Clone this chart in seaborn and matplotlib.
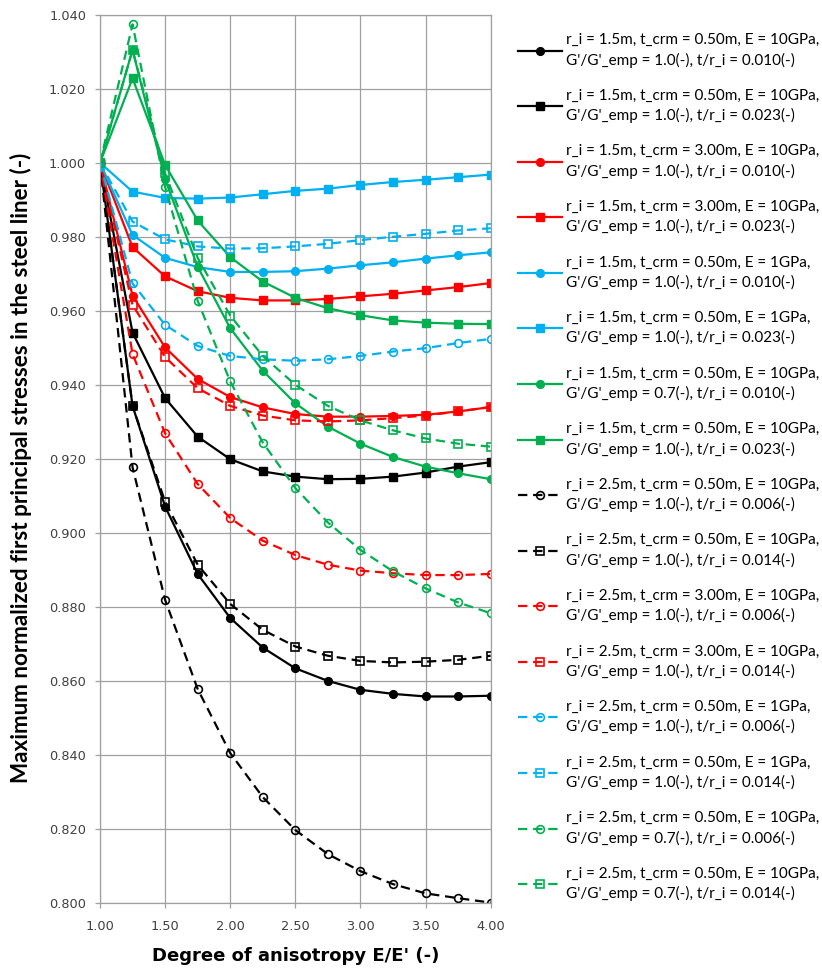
import matplotlib
matplotlib.use("Agg")
import matplotlib.pyplot as plt
import seaborn as sns
import pandas as pd
import numpy as np

# ---------------- data ----------------
anisotropy = [1.00, 1.25, 1.50, 1.75, 2.00, 2.25, 2.50, 2.75, 3.00, 3.25, 3.50, 3.75, 4.00]

labels = [
    "r_i = 1.5m, t_crm = 0.50m, E = 10GPa,\nG'/G'_emp = 1.0(-), t/r_i = 0.010(-)",
    "r_i = 1.5m, t_crm = 0.50m, E = 10GPa,\nG'/G'_emp = 1.0(-), t/r_i = 0.023(-)",
    "r_i = 1.5m, t_crm = 3.00m, E = 10GPa,\nG'/G'_emp = 1.0(-), t/r_i = 0.010(-)",
    "r_i = 1.5m, t_crm = 3.00m, E = 10GPa,\nG'/G'_emp = 1.0(-), t/r_i = 0.023(-)",
    "r_i = 1.5m, t_crm = 0.50m, E = 1GPa,\nG'/G'_emp = 1.0(-), t/r_i = 0.010(-)",
    "r_i = 1.5m, t_crm = 0.50m, E = 1GPa,\nG'/G'_emp = 1.0(-), t/r_i = 0.023(-)",
    "r_i = 1.5m, t_crm = 0.50m, E = 10GPa,\nG'/G'_emp = 0.7(-), t/r_i = 0.010(-)",
    "r_i = 1.5m, t_crm = 0.50m, E = 10GPa,\nG'/G'_emp = 1.0(-), t/r_i = 0.023(-)",
    "r_i = 2.5m, t_crm = 0.50m, E = 10GPa,\nG'/G'_emp = 1.0(-), t/r_i = 0.006(-)",
    "r_i = 2.5m, t_crm = 0.50m, E = 10GPa,\nG'/G'_emp = 1.0(-), t/r_i = 0.014(-)",
    "r_i = 2.5m, t_crm = 3.00m, E = 10GPa,\nG'/G'_emp = 1.0(-), t/r_i = 0.006(-)",
    "r_i = 2.5m, t_crm = 3.00m, E = 10GPa,\nG'/G'_emp = 1.0(-), t/r_i = 0.014(-)",
    "r_i = 2.5m, t_crm = 0.50m, E = 1GPa,\nG'/G'_emp = 1.0(-), t/r_i = 0.006(-)",
    "r_i = 2.5m, t_crm = 0.50m, E = 1GPa,\nG'/G'_emp = 1.0(-), t/r_i = 0.014(-)",
    "r_i = 2.5m, t_crm = 0.50m, E = 10GPa,\nG'/G'_emp = 0.7(-), t/r_i = 0.006(-)",
    "r_i = 2.5m, t_crm = 0.50m, E = 10GPa,\nG'/G'_emp = 0.7(-), t/r_i = 0.014(-)",
]

black_c_solid  = [1.000, 0.9343, 0.9071, 0.8889, 0.8770, 0.8690, 0.8634, 0.8600, 0.8576, 0.8565, 0.8558, 0.8558, 0.8560]
black_s_solid  = [1.000, 0.9541, 0.9364, 0.9260, 0.9199, 0.9166, 0.9152, 0.9145, 0.9146, 0.9152, 0.9163, 0.9179, 0.9191]
red_c_solid    = [1.000, 0.9641, 0.9501, 0.9416, 0.9367, 0.9339, 0.9321, 0.9314, 0.9314, 0.9316, 0.9319, 0.9328, 0.9340]
red_s_solid    = [1.000, 0.9772, 0.9693, 0.9653, 0.9635, 0.9628, 0.9628, 0.9632, 0.9639, 0.9646, 0.9655, 0.9664, 0.9675]
blue_c_solid   = [1.000, 0.9805, 0.9743, 0.9718, 0.9705, 0.9705, 0.9707, 0.9714, 0.9723, 0.9731, 0.9741, 0.9750, 0.9758]
blue_s_solid   = [1.000, 0.9922, 0.9905, 0.9903, 0.9906, 0.9915, 0.9924, 0.9930, 0.9940, 0.9948, 0.9954, 0.9961, 0.9968]
green_c_solid  = [1.000, 1.0305, 0.9955, 0.9719, 0.9553, 0.9438, 0.9350, 0.9287, 0.9241, 0.9205, 0.9179, 0.9161, 0.9145]
green_s_solid  = [1.000, 1.0228, 0.9994, 0.9844, 0.9745, 0.9679, 0.9635, 0.9607, 0.9588, 0.9574, 0.9568, 0.9565, 0.9564]
black_c_dash   = [1.000, 0.9177, 0.8819, 0.8578, 0.8405, 0.8286, 0.8197, 0.8132, 0.8086, 0.8051, 0.8026, 0.8013, 0.8001]
black_s_dash   = [1.000, 0.9343, 0.9084, 0.8914, 0.8808, 0.8738, 0.8693, 0.8668, 0.8654, 0.8650, 0.8652, 0.8657, 0.8668]
red_c_dash     = [1.000, 0.9483, 0.9269, 0.9132, 0.9040, 0.8979, 0.8940, 0.8914, 0.8898, 0.8891, 0.8886, 0.8886, 0.8889]
red_s_dash     = [1.000, 0.9616, 0.9475, 0.9391, 0.9343, 0.9317, 0.9304, 0.9301, 0.9304, 0.9310, 0.9317, 0.9328, 0.9340]
blue_c_dash    = [1.000, 0.9674, 0.9562, 0.9505, 0.9478, 0.9469, 0.9465, 0.9469, 0.9478, 0.9490, 0.9499, 0.9513, 0.9524]
blue_s_dash    = [1.000, 0.9841, 0.9793, 0.9774, 0.9768, 0.9769, 0.9774, 0.9781, 0.9791, 0.9800, 0.9808, 0.9817, 0.9823]
green_c_dash   = [1.000, 1.0374, 0.9934, 0.9627, 0.9409, 0.9244, 0.9121, 0.9028, 0.8954, 0.8896, 0.8850, 0.8812, 0.8783]
green_s_dash   = [1.000, 1.0305, 0.9971, 0.9743, 0.9587, 0.9478, 0.9400, 0.9343, 0.9304, 0.9277, 0.9255, 0.9241, 0.9233]

series_values = [black_c_solid, black_s_solid, red_c_solid, red_s_solid,
                 blue_c_solid, blue_s_solid, green_c_solid, green_s_solid,
                 black_c_dash, black_s_dash, red_c_dash, red_s_dash,
                 blue_c_dash, blue_s_dash, green_c_dash, green_s_dash]

x_ticks = [1.00, 1.50, 2.00, 2.50, 3.00, 3.50, 4.00]
y_ticks = [0.800, 0.820, 0.840, 0.860, 0.880, 0.900, 0.920, 0.940, 0.960, 0.980, 1.000, 1.020, 1.040]

# ---------------- styles ----------------
BLACK, RED, BLUE, GREEN = "#000000", "#ff0000", "#00b0f0", "#00b050"
colors = [BLACK, BLACK, RED, RED, BLUE, BLUE, GREEN, GREEN] * 2
markers = ["o", "s"] * 8
dashed = [False] * 8 + [True] * 8

frames = []
for i, vals in enumerate(series_values):
    frames.append(pd.DataFrame({"x": anisotropy, "y": vals, "series": i}))
df = pd.concat(frames, ignore_index=True)

fig = plt.figure(figsize=(8.22, 9.69), dpi=100)
ax = fig.add_axes([100 / 822, 1 - 903 / 969, 390.7 / 822, (903 - 14.7) / 969])

handles = []
for i in range(16):
    sub = df[df["series"] == i]
    ls = (0, (4.2, 2.6)) if dashed[i] else "-"
    kw = dict(color=colors[i], marker=markers[i], markersize=5.6 if markers[i] == "o" else 5.8,
              linewidth=1.6, linestyle=ls, markeredgewidth=1.2 if dashed[i] else 1.0,
              markeredgecolor=colors[i],
              markerfacecolor="none" if dashed[i] else colors[i])
    sns.lineplot(data=sub, x="x", y="y", ax=ax, estimator=None, sort=False,
                 legend=False, **kw)
    handles.append(ax.lines[-1])

ax.set_xlim(1.0, 4.0)
ax.set_ylim(0.800, 1.040)
ax.set_xticks(x_ticks)
ax.set_yticks(y_ticks)
ax.set_xticklabels([f"{v:.2f}" for v in x_ticks])
ax.set_yticklabels([f"{v:.3f}" for v in y_ticks])
ax.grid(True, color="#a0a0a0", linewidth=0.9)
ax.set_axisbelow(True)
for s in ax.spines.values():
    s.set_color("#a0a0a0")
    s.set_linewidth(0.9)
ax.tick_params(axis="both", direction="out", length=3.5, width=0.9, color="#a0a0a0",
               labelsize=9.3, labelcolor="#404040")
ax.tick_params(axis="x", pad=9)
ax.tick_params(axis="y", pad=6.5)
for t in ax.get_xticklabels() + ax.get_yticklabels():
    t.set_fontfamily("DejaVu Sans")

ax.set_xlabel("Degree of anisotropy E/E' (-)", fontsize=13, fontweight="bold",
              fontfamily="DejaVu Sans", labelpad=9.5)
ax.set_ylabel("Maximum normalized first principal stresses in the steel liner (-)",
              fontsize=16.2, fontweight="bold", fontfamily="Lato")
ax.yaxis.set_label_coords(-68 / 390.7, 0.49)

leg = fig.legend(handles, labels, loc="upper left", bbox_to_anchor=(512 / 822, 1 - 27 / 969),
                 frameon=False, prop={"family": "Lato", "size": 11},
                 handlelength=2.85, handletextpad=0.28, labelspacing=1.38, borderaxespad=0)
for t in leg.get_texts():
    t.set_linespacing(1.45)

fig.savefig("out.png", dpi=100)
